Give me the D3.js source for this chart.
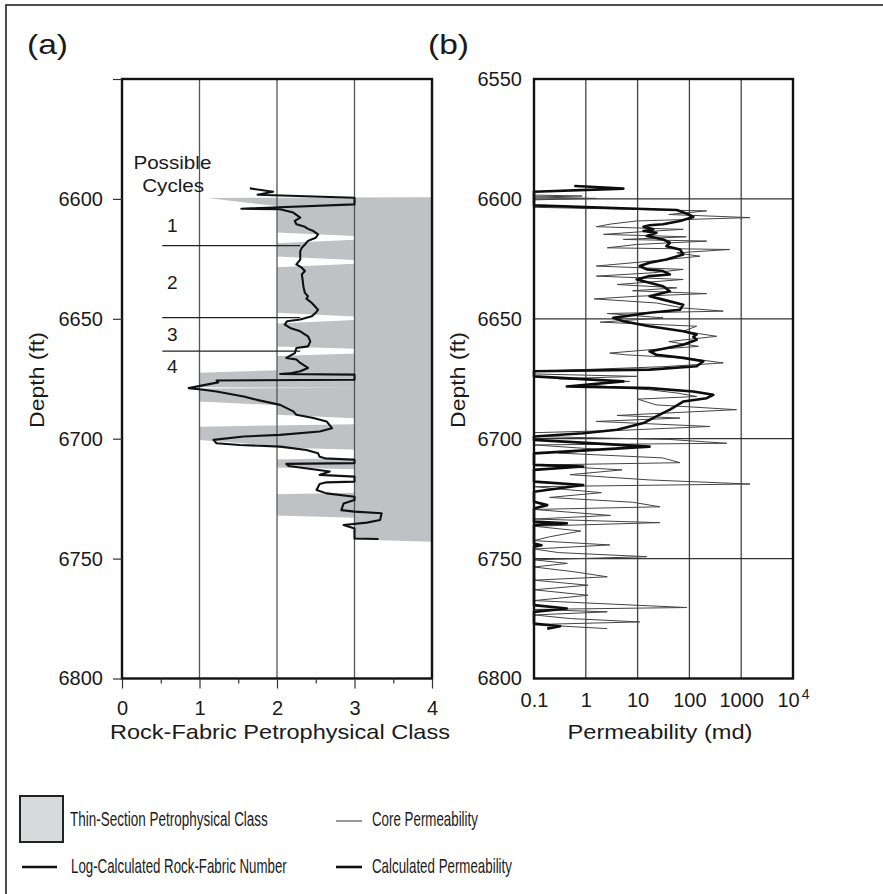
<!DOCTYPE html>
<html><head><meta charset="utf-8">
<script src="https://cdn.jsdelivr.net/npm/d3@7"></script>
<style>
html,body{margin:0;padding:0;background:#fff;}
svg{display:block;}
text{font-family:"Liberation Sans",Arial,Helvetica,sans-serif;fill:#1a1a1a;}
.narrow{font-family:"Liberation Sans Narrow","Arial Narrow","Liberation Sans",sans-serif;}
</style>
</head><body>
<script>
// ---------- DATA ----------
// (a) Thin-section petrophysical class profile (filled from class to 4)
const tsDepth = [6599.3,6599.6,6603,6614,6615.5,6617,6618.5,6624,6625.5,6627,6628.5,6647.5,6649,6650.5,6652,6661.5,6662.5,6664.5,6665.5,6671.5,6672.5,6678.5,6678.8,6679.1,6684.5,6686,6690,6691.5,6694,6695,6700.5,6703,6703.8,6704.5,6708,6708.7,6712,6712.7,6722.5,6723.2,6732,6733,6742,6743];
const tsClass = [4,1.1,2,2,3,3,2,2,3,3,2,2,3,3,2,2,3,3,2,2,1,1,3,1,1,2,2,3,3,1,1,2,2,3,3,2,2,3,3,2,2,3,3,4];

// (a) Log-calculated rock-fabric number
const rfnDepth = [6595.6,6597.0,6598.3,6599.5,6602.3,6604.1,6604.3,6605.7,6607.8,6609.2,6610.6,6611.5,6612.5,6613.4,6614.8,6616.2,6617.5,6619.0,6620.4,6621.8,6623.2,6625.3,6627.3,6628.7,6630.1,6631.5,6633.6,6636.4,6639.2,6640.6,6641.6,6643.4,6646.2,6647.5,6648.9,6650.3,6651.0,6652.4,6653.8,6655.2,6657.3,6659.4,6661.5,6662.2,6664.3,6666.3,6667.0,6668.4,6670.5,6671.9,6672.6,6673.0,6673.3,6675.4,6675.7,6676.5,6678.9,6679.6,6680.3,6682.4,6683.8,6685.9,6688.6,6690.0,6691.4,6692.8,6695.6,6697.0,6698.4,6699.1,6700.5,6701.9,6702.6,6703.3,6704.7,6706.1,6707.5,6708.2,6708.8,6710.2,6710.5,6711.4,6713.7,6715.1,6715.8,6717.9,6718.2,6718.9,6721.4,6722.8,6724.2,6725.6,6727.0,6729.8,6730.4,6731.1,6733.9,6735.0,6736.0,6737.4,6741.6,6741.8];
const rfnClass = [1.65,1.95,1.75,3.0,3.0,1.54,2.04,2.21,2.30,2.23,2.25,2.35,2.40,2.47,2.53,2.50,2.40,2.36,2.32,2.30,2.30,2.30,2.25,2.32,2.36,2.32,2.33,2.34,2.36,2.40,2.38,2.45,2.53,2.50,2.45,2.30,2.13,2.10,2.17,2.30,2.40,2.43,2.40,2.25,2.23,2.12,2.25,2.30,2.40,2.30,2.19,2.04,3.0,3.0,1.22,1.24,0.86,1.05,1.22,1.57,1.74,2.04,2.21,2.25,2.47,2.64,2.71,2.55,2.04,1.57,1.18,1.22,1.52,2.04,2.38,2.53,2.55,2.62,3.0,3.0,2.12,2.15,2.68,2.55,3.0,3.0,2.64,2.55,2.51,2.64,3.0,3.0,2.86,2.83,3.0,3.35,3.33,3.16,2.86,3.0,3.0,3.31];

// (a) Possible cycles
const cycleBoundaries = [6619.5, 6649.5, 6663.5];
const cycleLabels = ["1","2","3","4"];
const cycleLabelDepths = [6611, 6635, 6656.5, 6670];

// (b) Core permeability (md)
const coreDepth = [6598.4,6598.8,6599.2,6599.8,6600.4,6603.5,6605.0,6606.5,6607.8,6609.2,6610.5,6611.6,6612.7,6613.8,6614.8,6615.8,6616.9,6617.6,6619.0,6620.4,6621.1,6622.5,6623.9,6626.0,6628.0,6629.4,6630.8,6632.2,6633.6,6635.7,6637.1,6638.3,6639.5,6640.6,6641.7,6643.4,6645.5,6646.8,6647.8,6649.6,6651.4,6653.1,6655.2,6657.3,6659.5,6661.5,6663.0,6664.3,6665.0,6666.5,6668.4,6670.0,6671.9,6673.0,6674.0,6675.0,6676.1,6677.5,6679.6,6681.0,6682.4,6683.5,6685.9,6687.9,6689.3,6690.3,6691.4,6692.8,6694.9,6696.5,6697.5,6699.1,6700.3,6701.9,6702.6,6704.5,6706.0,6708.0,6710.0,6711.0,6713.0,6715.0,6717.2,6718.9,6720.0,6722.5,6724.5,6726.5,6728.4,6729.5,6732.0,6733.5,6735.0,6736.5,6738.5,6740.9,6742.5,6744.3,6746.0,6747.5,6749.2,6750.5,6752.0,6753.5,6755.5,6757.6,6759.0,6761.1,6763.0,6765.3,6767.5,6770.4,6771.2,6772.2,6773.5,6775.0,6776.4,6777.5,6779.2];
const corePerm = [0.1,0.85,0.1,1.6,0.1,0.1,215,40,1480,9.6,3,1.6,76,10,2.2,87,5.3,215,9.6,2.6,600,57,160,17,1.6,76,20,1.6,76,4,57,8,215,9.6,1.45,23,76,450,2.6,31,1.9,138,76,336,40,150,15,2.9,5.8,100,450,30,0.1,0.1,9.6,0.3,7,1,17,60,138,10,23,815,36,4,66,1.6,250,5,0.1,0.1,40,525,0.1,2,0.3,30,66,0.1,5,0.5,17,1480,0.1,2,0.2,8,27,0.1,3,0.1,27,0.1,0.8,0.2,0.1,2.9,0.1,0.3,15,0.1,0.44,0.1,0.6,2.6,0.1,1.1,0.1,1.1,0.1,89,0.1,2.6,0.1,0.5,11,0.1,2.6];

// (b) Calculated permeability (md)
const calcDepth = [6594.6,6594.8,6595.7,6597.0,6602.7,6604.1,6604.6,6606.4,6607.5,6609.2,6610.6,6611.0,6611.6,6612.7,6613.4,6614.1,6615.5,6616.9,6618.3,6619.7,6621.1,6623.2,6625.3,6626.6,6628.0,6629.4,6630.1,6631.5,6632.2,6633.6,6635.0,6636.4,6638.5,6640.6,6642.0,6644.1,6646.2,6647.5,6649.6,6651.0,6653.1,6655.2,6656.5,6657.5,6658.7,6660.8,6663.6,6665.0,6666.3,6667.7,6669.8,6671.2,6671.9,6674.0,6676.1,6678.2,6678.9,6680.3,6681.7,6683.1,6684.5,6687.9,6690.7,6693.5,6696.3,6697.7,6699.1,6700.5,6703.3,6706.1,6710.9,6711.6,6713.0,6717.9,6719.3,6722.1,6726.3,6727.7,6729.1,6734.6,6735.3,6736.0,6743.7,6744.4,6745.0,6769.4,6770.8,6772.2,6777.1,6778.2,6779.2];
const calcPerm = [0.6,1.0,5.3,0.1,0.1,9.6,57,95,119,66,31,17,13,20,13,23,15,31,42,36,66,76,36,17,11,15,31,42,17,9.6,17,31,42,17,31,76,66,17,3.4,5.3,17,76,138,119,138,76,17,23,76,186,138,17,0.1,0.1,5.3,0.43,17,119,290,215,76,42,23,13,4,0.89,0.1,0.1,17,0.1,0.1,0.89,0.1,0.1,0.89,0.1,0.1,0.18,0.1,0.1,0.43,0.1,0.1,0.14,0.1,0.1,0.43,0.1,0.1,0.32,0.18];

// Axis ticks
const depthTicks = [6550,6600,6650,6700,6750,6800];
const classTicks = [0,1,2,3,4];
const classMinorTicks = [0.5,1.5,2.5,3.5];
const permTicks = [0.1,1,10,100,1000,10000];
const permTickLabels = ["0.1","1","10","100","1000","10"];

// Legend
const legendLabels = ["Thin-Section Petrophysical Class","Log-Calculated Rock-Fabric Number","Core Permeability","Calculated Permeability"];

// ---------- DRAW ----------
const W = 883, H = 894;
const svg = d3.select("body").append("svg").attr("width", W).attr("height", H);

// helper: text squeezed horizontally to a target width (real geometry via transform)
function fitText(parent, str, x, yy, size, targetW, cls) {
  const g = parent.append("g");
  const t = g.append("text").attr("x",0).attr("y",0).attr("dominant-baseline","central")
    .attr("font-size",size).attr("fill","#2a2a2a").text(str);
  if (cls) t.attr("class", cls);
  const w = t.node().getComputedTextLength() || targetW;
  g.attr("transform",`translate(${x},${yy}) scale(${targetW/w},1)`);
  return g;
}

// figure border
svg.append("rect").attr("x",6).attr("y",5).attr("width",900).attr("height",920)
  .attr("fill","none").attr("stroke","#222").attr("stroke-width",1.6);

const y = d3.scaleLinear().domain([6550,6800]).range([79,678.5]);
const xA = d3.scaleLinear().domain([0,4]).range([122,432]);
const xB = d3.scaleLog().domain([0.1,10000]).range([534,793]);

// ---------- Panel (a) ----------
const gA = svg.append("g");
const tsData = tsDepth.map((d,i)=>({d, c: tsClass[i]}));
gA.append("path").datum(tsData)
  .attr("d", d3.area().y(p=>y(p.d)).x0(p=>xA(p.c)).x1(xA(4)))
  .attr("fill","#bfc1c4").attr("stroke","none");

gA.selectAll("line.vg").data([1,2,3]).enter().append("line")
  .attr("x1",d=>xA(d)).attr("x2",d=>xA(d)).attr("y1",y(6550)).attr("y2",y(6800))
  .attr("stroke","#555").attr("stroke-width",1.3);

gA.selectAll("line.cyc").data(cycleBoundaries).enter().append("line")
  .attr("x1",xA(0.52)).attr("x2",xA(2.3)).attr("y1",d=>y(d)).attr("y2",d=>y(d))
  .attr("stroke","#222").attr("stroke-width",1.3);

const rfnData = rfnDepth.map((d,i)=>({d, c: rfnClass[i]}));
gA.append("path").datum(rfnData)
  .attr("d", d3.line().x(p=>xA(p.c)).y(p=>y(p.d)))
  .attr("fill","none").attr("stroke","#111").attr("stroke-width",2.1).attr("stroke-linejoin","round");

gA.append("text").attr("x",xA(0.65)).attr("y",162).attr("text-anchor","middle")
  .attr("dominant-baseline","central").attr("font-size",19).attr("fill","#333")
  .attr("textLength",78).attr("lengthAdjust","spacingAndGlyphs").text("Possible");
gA.append("text").attr("x",xA(0.66)).attr("y",185).attr("text-anchor","middle")
  .attr("dominant-baseline","central").attr("font-size",19).attr("fill","#333")
  .attr("textLength",62).attr("lengthAdjust","spacingAndGlyphs").text("Cycles");
gA.selectAll("text.cl").data(cycleLabels).enter().append("text")
  .attr("x",xA(0.65)).attr("y",(d,i)=>y(cycleLabelDepths[i]))
  .attr("text-anchor","middle").attr("dominant-baseline","central").attr("font-size",19)
  .attr("fill","#333").text(d=>d);

gA.append("rect").attr("x",xA(0)).attr("y",y(6550)).attr("width",xA(4)-xA(0)).attr("height",y(6800)-y(6550))
  .attr("fill","none").attr("stroke","#111").attr("stroke-width",2.4);

const axA = gA.append("g").attr("transform",`translate(${xA(0)},0)`)
  .call(d3.axisLeft(y).tickValues(depthTicks).tickSize(9).tickPadding(10)
    .tickFormat(d=> d===6550 ? "" : d));
axA.select(".domain").remove();
axA.selectAll("line").attr("stroke","#333").attr("stroke-width",1.2);
axA.selectAll("text").attr("font-size",20).attr("fill","#2a2a2a")
  .attr("font-family","Liberation Sans, Arial, sans-serif");

const axAx = gA.append("g").attr("transform",`translate(0,${y(6800)})`)
  .call(d3.axisBottom(xA).tickValues(classTicks).tickSize(10).tickPadding(12).tickFormat(d3.format("d")));
axAx.select(".domain").remove();
axAx.selectAll("line").attr("stroke","#333").attr("stroke-width",1.2);
axAx.selectAll("text").attr("font-size",20).attr("fill","#2a2a2a")
  .attr("font-family","Liberation Sans, Arial, sans-serif");
const axAm = gA.append("g").attr("transform",`translate(0,${y(6800)})`)
  .call(d3.axisBottom(xA).tickValues(classMinorTicks).tickSize(5).tickFormat(""));
axAm.select(".domain").remove();
axAm.selectAll("line").attr("stroke","#333").attr("stroke-width",1.2);

gA.append("text").attr("x",280).attr("y",731).attr("text-anchor","middle")
  .attr("dominant-baseline","central").attr("font-size",21).attr("fill","#2a2a2a")
  .attr("textLength",340).attr("lengthAdjust","spacingAndGlyphs")
  .text("Rock-Fabric Petrophysical Class");
gA.append("text").attr("transform","translate(36,380) rotate(-90)").attr("text-anchor","middle")
  .attr("dominant-baseline","central").attr("font-size",21).attr("fill","#2a2a2a")
  .attr("textLength",96).attr("lengthAdjust","spacingAndGlyphs").text("Depth (ft)");
svg.append("text").attr("x",27).attr("y",44).attr("dominant-baseline","central")
  .attr("font-size",28).attr("fill","#2a2a2a")
  .attr("textLength",41).attr("lengthAdjust","spacingAndGlyphs").text("(a)");

// ---------- Panel (b) ----------
const gB = svg.append("g");
gB.selectAll("line.vg").data([1,10,100,1000]).enter().append("line")
  .attr("x1",d=>xB(d)).attr("x2",d=>xB(d)).attr("y1",y(6550)).attr("y2",y(6800))
  .attr("stroke","#444").attr("stroke-width",1.3);
gB.selectAll("line.hg").data([6600,6650,6700,6750]).enter().append("line")
  .attr("x1",xB(0.1)).attr("x2",xB(10000)).attr("y1",d=>y(d)).attr("y2",d=>y(d))
  .attr("stroke","#333").attr("stroke-width",1.3);

const coreData = coreDepth.map((d,i)=>({d, k: corePerm[i]}));
gB.append("path").datum(coreData)
  .attr("d", d3.line().x(p=>xB(p.k)).y(p=>y(p.d)))
  .attr("fill","none").attr("stroke","#444").attr("stroke-width",1.0).attr("stroke-linejoin","round");

const calcData = calcDepth.map((d,i)=>({d, k: calcPerm[i]}));
gB.append("path").datum(calcData)
  .attr("d", d3.line().x(p=>xB(p.k)).y(p=>y(p.d)))
  .attr("fill","none").attr("stroke","#0d0d0d").attr("stroke-width",2.6).attr("stroke-linejoin","round");

gB.append("rect").attr("x",xB(0.1)).attr("y",y(6550)).attr("width",xB(10000)-xB(0.1)).attr("height",y(6800)-y(6550))
  .attr("fill","none").attr("stroke","#111").attr("stroke-width",2.4);

const axB = gB.append("g").attr("transform",`translate(${xB(0.1)},0)`)
  .call(d3.axisLeft(y).tickValues(depthTicks).tickSize(0).tickPadding(12).tickFormat(d3.format("d")));
axB.select(".domain").remove();
axB.selectAll("text").attr("font-size",20).attr("fill","#2a2a2a")
  .attr("font-family","Liberation Sans, Arial, sans-serif");

const axBx = gB.append("g").attr("transform",`translate(0,${y(6800)})`)
  .call(d3.axisBottom(xB).tickValues(permTicks).tickSize(0).tickPadding(14)
    .tickFormat((d,i)=>permTickLabels[i]));
axBx.select(".domain").remove();
axBx.selectAll("text").attr("font-size",20).attr("fill","#2a2a2a")
  .attr("font-family","Liberation Sans, Arial, sans-serif");
axBx.selectAll(".tick").filter(d=>d===10000).select("text")
  .append("tspan").attr("dy","-0.55em").attr("dx","2").attr("font-size",14).text("4");

gB.append("text").attr("x",660).attr("y",731).attr("text-anchor","middle")
  .attr("dominant-baseline","central").attr("font-size",21).attr("fill","#2a2a2a")
  .attr("textLength",185).attr("lengthAdjust","spacingAndGlyphs").text("Permeability (md)");
gB.append("text").attr("transform","translate(457,380) rotate(-90)").attr("text-anchor","middle")
  .attr("dominant-baseline","central").attr("font-size",21).attr("fill","#2a2a2a")
  .attr("textLength",96).attr("lengthAdjust","spacingAndGlyphs").text("Depth (ft)");
svg.append("text").attr("x",428).attr("y",44).attr("dominant-baseline","central")
  .attr("font-size",28).attr("fill","#2a2a2a")
  .attr("textLength",41).attr("lengthAdjust","spacingAndGlyphs").text("(b)");

// ---------- Legend ----------
const lg = svg.append("g");
lg.append("rect").attr("x",20).attr("y",796).attr("width",43).attr("height",46)
  .attr("fill","#d9dadb").attr("stroke","#222").attr("stroke-width",2);
fitText(lg, legendLabels[0], 70, 820, 20, 198, "narrow");
lg.append("line").attr("x1",22).attr("x2",57).attr("y1",867).attr("y2",867)
  .attr("stroke","#111").attr("stroke-width",2.4);
fitText(lg, legendLabels[1], 71, 867, 20, 216, "narrow");
lg.append("line").attr("x1",336).attr("x2",362).attr("y1",821).attr("y2",821)
  .attr("stroke","#444").attr("stroke-width",1.1);
fitText(lg, legendLabels[2], 372, 820, 20, 106, "narrow");
lg.append("line").attr("x1",336).attr("x2",362).attr("y1",867).attr("y2",867)
  .attr("stroke","#111").attr("stroke-width",2.6);
fitText(lg, legendLabels[3], 372, 867, 20, 140, "narrow");
</script>
</body></html>
